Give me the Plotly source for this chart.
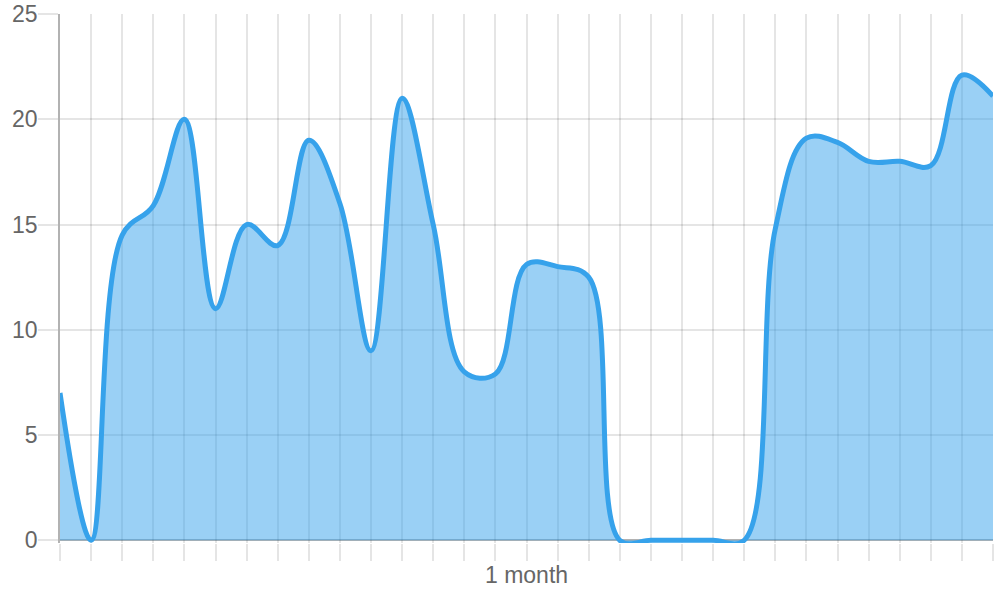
import plotly.graph_objects as go

# Data
day_index = list(range(31))
values = [7, 0, 14.5, 15.9, 20, 11, 15, 14, 19, 16, 9, 21, 15, 8, 7.9, 13.1,
          13, 12.5, 0, 0, 0, 0, 0, 14.8, 19.1, 18.9, 18, 18, 17.8, 22.1, 21.1]
x_tick_labels = ["" for _ in day_index]
x_tick_labels[15] = "1 month"
y_ticks = [0, 5, 10, 15, 20, 25]

LINE = "rgb(54,162,235)"
FILL = "rgba(54,162,235,0.5)"
GRID = "rgba(0,0,0,0.1)"
AXIS = "rgba(0,0,0,0.3)"
FONT = dict(family="Liberation Sans, Arial, sans-serif", size=23, color="#666")

# small headroom below zero so the flat zero line is not half clipped
Y_MIN = -0.13
PLOT_TOP = 14
ZERO_PX = 540
px_per_unit = (ZERO_PX - PLOT_TOP) / 25.0
bottom_margin = 600 - (ZERO_PX + (-Y_MIN) * px_per_unit)

fig = go.Figure()
fig.add_trace(go.Scatter(
    x=day_index, y=values,
    mode="lines",
    line=dict(color=LINE, width=5, shape="spline", smoothing=1.05),
    fill="tozeroy", fillcolor=FILL,
    hoverinfo="skip",
))

fig.update_layout(
    width=1000, height=600, autosize=False,
    margin=dict(l=60, r=7, t=PLOT_TOP, b=bottom_margin, pad=0),
    paper_bgcolor="white", plot_bgcolor="white",
    showlegend=False,
    font=FONT,
)
fig.update_xaxes(
    range=[0, 30], tickmode="array", tickvals=day_index, ticktext=x_tick_labels,
    showgrid=True, gridcolor=GRID, gridwidth=2,
    ticks="outside", ticklen=17, tickcolor=GRID, tickwidth=2,
    ticklabelstandoff=-6,
    showline=False,
    zeroline=False, tickfont=FONT, fixedrange=True, automargin=False,
)
fig.update_yaxes(
    range=[Y_MIN, 25], tickmode="array", tickvals=y_ticks,
    showgrid=True, gridcolor=GRID, gridwidth=2,
    ticks="outside", ticklen=20, tickcolor=GRID, tickwidth=2,
    ticklabelstandoff=-4,
    showline=True, linecolor=AXIS, linewidth=1.5,
    zeroline=True, zerolinecolor=AXIS, zerolinewidth=1.5,
    tickfont=FONT, fixedrange=True, automargin=False,
)

fig.write_html(
    "out.html",
    config={"displayModeBar": False},
    post_script="document.body.style.margin='0';document.body.style.overflow='hidden';",
)
